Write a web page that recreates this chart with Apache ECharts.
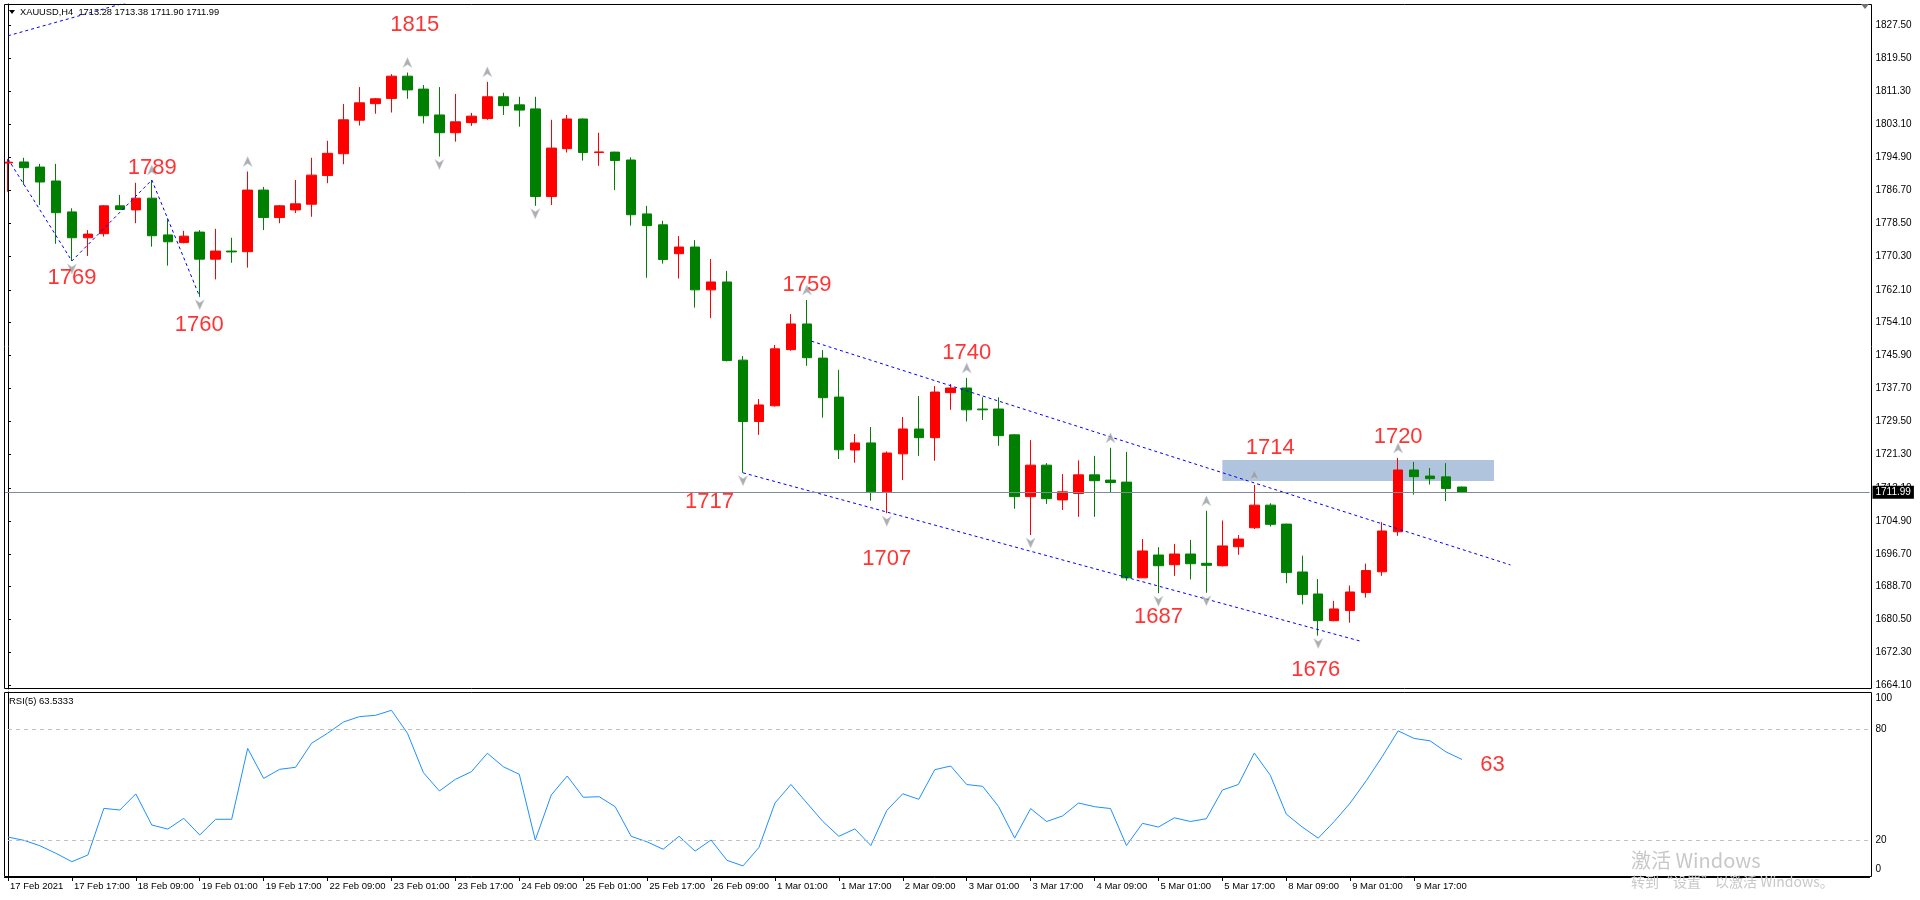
<!DOCTYPE html>
<html><head><meta charset="utf-8">
<script src="https://cdn.jsdelivr.net/npm/echarts@6/dist/echarts.min.js"></script>
<style>html,body{margin:0;padding:0;background:#fff;overflow:hidden}#c{width:1920px;height:900px}</style>
</head><body><div id="c"></div>
<script>
// ---------- data ----------
const tickLabels = ['17 Feb 2021','17 Feb 17:00','18 Feb 09:00','19 Feb 01:00','19 Feb 17:00','22 Feb 09:00','23 Feb 01:00','23 Feb 17:00','24 Feb 09:00','25 Feb 01:00','25 Feb 17:00','26 Feb 09:00','1 Mar 01:00','1 Mar 17:00','2 Mar 09:00','3 Mar 01:00','3 Mar 17:00','4 Mar 09:00','5 Mar 01:00','5 Mar 17:00','8 Mar 09:00','9 Mar 01:00','9 Mar 17:00'];

const opens  = [1793.5,1793.76,1792.5,1789.05,1781.4,1775.0,1776.0,1782.9,1781.9,1784.8,1775.7,1773.8,1776.4,1769.7,1771.7,1771.55,1786.8,1780.0,1781.9,1783.3,1790.4,1795.8,1804.1,1808.2,1809.5,1815.0,1811.8,1805.4,1801.0,1803.5,1804.5,1809.9,1807.9,1806.9,1785.2,1797.05,1804.4,1796.1,1796.2,1794.25,1780.9,1778.2,1771.05,1772.7,1762.1,1764.05,1744.7,1729.5,1733.4,1747.3,1753.65,1745.2,1735.55,1722.45,1724.2,1712.1,1721.5,1727.65,1725.5,1736.65,1737.8,1732.6,1732.6,1726.2,1710.9,1718.7,1710.1,1711.7,1716.3,1715.0,1714.5,1690.8,1696.45,1694.05,1696.7,1694.4,1693.8,1698.5,1703.2,1708.8,1704.1,1692.25,1686.8,1680.2,1682.7,1687.15,1692.3,1702.2,1717.5,1716.0,1715.8,1713.28];
const closes = [1793.7,1792.35,1788.8,1781.2,1775.0,1775.9,1782.9,1782.0,1784.8,1775.5,1774.0,1775.4,1769.7,1771.7,1771.5,1786.8,1780.0,1782.9,1783.4,1790.5,1795.9,1804.2,1808.4,1809.4,1815.0,1811.6,1805.2,1801.0,1803.7,1805.1,1809.9,1807.7,1806.6,1785.2,1797.2,1804.4,1796.1,1796.25,1794.1,1780.7,1778.0,1769.6,1772.7,1762.1,1764.05,1744.6,1729.5,1733.6,1747.5,1753.65,1745.3,1735.4,1722.5,1724.2,1712.1,1721.7,1727.65,1725.5,1736.8,1737.8,1732.4,1732.4,1726.0,1710.9,1718.7,1710.4,1712.1,1716.3,1714.85,1714.4,1690.8,1697.45,1693.8,1696.7,1694.3,1693.9,1698.7,1700.4,1708.8,1704.05,1692.1,1686.7,1680.2,1683.1,1687.3,1692.6,1702.4,1717.5,1715.85,1715.35,1712.9,1711.99];
const lows   = [1786.4,1788.1,1783.1,1773.5,1769.25,1770.5,1775.3,1781.9,1778.6,1772.8,1768.1,1773.6,1760.4,1764.7,1768.8,1767.6,1776.9,1778.6,1781.1,1780.2,1788.5,1793.2,1802.8,1805.7,1806.0,1809.4,1803.3,1795.1,1798.8,1802.7,1804.2,1805.4,1802.5,1782.9,1783.1,1796.1,1794.1,1792.8,1786.8,1778.0,1765.1,1768.6,1764.9,1757.7,1755.1,1744.4,1716.8,1726.2,1733.2,1747.04,1743.3,1730.45,1720.2,1719.3,1709.9,1706.8,1715.0,1721.0,1719.8,1732.4,1729.5,1729.9,1723.5,1707.9,1701.4,1709.1,1707.6,1705.9,1705.9,1711.9,1690.1,1690.8,1687.0,1691.3,1690.4,1687.1,1693.6,1696.5,1702.9,1703.5,1689.45,1684.25,1676.5,1680.05,1679.7,1685.9,1691.3,1701.2,1711.4,1713.9,1709.8,1711.90];
const highs  = [1794.5,1794.8,1793.3,1793.3,1782.3,1776.9,1783.1,1785.6,1788.6,1789.3,1779.8,1776.7,1776.9,1777.2,1775.0,1791.4,1787.6,1783.1,1789.3,1794.8,1799.0,1808.1,1812.3,1809.6,1815.5,1815.9,1812.8,1812.3,1810.6,1805.9,1813.6,1810.9,1809.9,1809.9,1804.2,1805.4,1804.5,1801.0,1796.3,1794.9,1782.9,1779.2,1775.4,1774.4,1769.75,1766.8,1745.7,1735.1,1748.45,1756.1,1759.6,1747.2,1742.3,1726.4,1728.15,1722.1,1730.6,1735.8,1738.3,1738.8,1740.3,1735.5,1735.5,1726.4,1724.9,1719.2,1716.5,1719.9,1721.0,1723.0,1722.0,1700.4,1698.4,1699.2,1700.2,1707.4,1705.0,1701.4,1713.8,1709.25,1704.2,1696.3,1690.5,1685.1,1688.9,1694.3,1704.6,1720.5,1719.5,1718.0,1719.2,1713.38];

const rsiValues = [21.6,19.8,16.9,12.8,8.3,11.9,37.1,36.2,44.9,28.1,25.9,31.7,22.7,31.2,31.2,69.5,53.3,58.2,59.3,72.3,77.7,83.8,86.7,87.4,90.1,77.7,56.4,46.5,52.8,56.9,66.9,59.6,55.5,20.0,44.3,54.6,43.1,43.4,38.0,22.0,19.0,15.0,22.0,14.0,20.0,9.0,6.0,16.0,40.0,50.0,40.0,30.0,22.0,26.0,17.0,36.0,45.0,42.0,58.0,60.0,50.0,49.0,38.0,21.0,37.0,30.0,33.0,40.0,38.0,37.0,17.0,29.0,27.0,32.0,30.0,31.5,47.0,50.0,67.0,55.0,34.0,27.0,21.0,30.0,40.0,52.0,65.0,79.0,74.9,73.6,67.6,63.53];

const priceTicks = [1827.50,1819.50,1811.30,1803.10,1794.90,1786.70,1778.50,1770.30,1762.10,1754.10,1745.90,1737.70,1729.50,1721.30,1713.10,1704.90,1696.70,1688.70,1680.50,1672.30,1664.10];
const rsiTicks = [0,20,80,100];
const rsiLevels = [20,80];
const lastPrice = 1711.99;
const headerText = 'XAUUSD,H4  1713.28 1713.38 1711.90 1711.99';
const rsiText = 'RSI(5) 63.5333';

const upFractals = [9,15,25,30,50,60,69,75,78,87];
const downFractals = [4,12,27,33,46,55,64,72,75,82];

const zigzagLine = [[0,1794.5],[4,1769.25],[9,1789.3],[12,1760.4]];
const zigzagTop = [[0,1825.0],[9,1835.0]];
const channelUpper = [[50.28,1749.4],[94.03,1694.0]];
const channelLower = [[46,1716.8],[84.76,1675.0]];
const zone = [[76,1720.0],[93,1714.8]];

const annotations = [
  ['1815',25.45,1827.8],['1789',9.03,1792.35],['1769',4.0,1764.97],['1760',11.97,1753.4],
  ['1759',50.0,1763.4],['1740',60.0,1746.4],['1717',43.9,1709.6],['1707',55.0,1695.55],
  ['1687',72.0,1681.2],['1676',81.85,1668.0],['1714',79.0,1722.9],['1720',87.0,1725.75]
];
const rsiNote = ['63',92.9,60.4];

// ---------- layout helpers ----------
const N = 117;
const cats = Array.from({length:N},(_,i)=> (i%4===0 && i/4<tickLabels.length) ? tickLabels[i/4] : '');
const tickShown = (i)=> i%4===0 && i/4<tickLabels.length;
const FONT = "'Liberation Sans', Arial, sans-serif";
const arrowPath = 'path://M5,0 L10,10 L5,7 L0,10 Z';

const chart = echarts.init(document.getElementById('c'), null, {renderer:'canvas'});
const candleData = opens.map((o,i)=>[o, closes[i], lows[i], highs[i]]);
const dash = [3,3];

chart.setOption({
  animation:false,
  backgroundColor:'#fff',
  grid:[
    {left:-2.5, width:1872, top:4, height:685},
    {left:-2.5, width:1872, top:692, height:185}
  ],
  xAxis:[
    {type:'category', gridIndex:0, data:cats, boundaryGap:true, show:false},
    {type:'value', gridIndex:0, min:-0.5, max:N-0.5, show:false},
    {type:'category', gridIndex:1, data:cats, boundaryGap:true,
      axisLine:{show:true, lineStyle:{color:'#000', width:1}},
      axisTick:{show:true, alignWithLabel:true, interval:tickShown, length:4, lineStyle:{color:'#000'}},
      axisLabel:{interval:tickShown, align:'left', margin:4, padding:[0,0,0,2], fontSize:9.5, color:'#000', fontFamily:FONT},
      splitLine:{show:false}},
    {type:'value', gridIndex:1, min:-0.5, max:N-0.5, show:false}
  ],
  yAxis:[
    {type:'value', gridIndex:0, position:'right', offset:2, min:1663.28, max:1832.87, scale:true,
      axisLine:{show:true, lineStyle:{color:'#000'}},
      axisTick:{show:true, customValues:priceTicks, length:3, lineStyle:{color:'#000'}},
      axisLabel:{customValues:priceTicks, formatter:v=>Number(v).toFixed(2), fontSize:10, color:'#000', margin:4, fontFamily:FONT},
      splitLine:{show:false}},
    {type:'value', gridIndex:1, position:'right', offset:2, min:0, max:100,
      axisLine:{show:true, lineStyle:{color:'#000'}},
      axisTick:{show:true, customValues:rsiTicks, length:3, lineStyle:{color:'#000'}},
      axisLabel:{customValues:rsiTicks, fontSize:10, color:'#000', margin:4, fontFamily:FONT,
        formatter:v=> v===100 ? '{t|100}' : (v===0 ? '{b|0}' : String(v)),
        rich:{t:{padding:[12,0,0,0], fontSize:10, color:'#000', fontFamily:FONT}, b:{padding:[0,0,16,0], fontSize:10, color:'#000', fontFamily:FONT}}},
      splitLine:{show:false}}
  ],
  series:[
    {type:'line', xAxisIndex:1, yAxisIndex:0, data:zone, symbol:'none', lineStyle:{opacity:0}, silent:true, z:1,
      markArea:{silent:true, itemStyle:{color:'#B0C4DE'}, data:[[{xAxis:zone[0][0], yAxis:zone[0][1]},{xAxis:zone[1][0], yAxis:zone[1][1]}]]}},
    {type:'candlestick', xAxisIndex:0, yAxisIndex:0, data:candleData, barWidth:10, z:3, silent:true,
      itemStyle:{color:'#FF0000', color0:'#008000', borderColor:'#FF0000', borderColor0:'#008000', borderWidth:1},
      markLine:{silent:true, symbol:'none', animation:false,
        lineStyle:{color:'#7F8B97', width:1, type:'solid'},
        label:{show:true, position:'end', distance:3, formatter:()=>lastPrice.toFixed(2), backgroundColor:'#000', color:'#fff', fontSize:10, fontFamily:FONT, padding:[2,3,1,3]},
        data:[{yAxis:lastPrice}]}},
    {type:'line', xAxisIndex:1, yAxisIndex:0, data:zigzagLine, symbol:'none', silent:true, z:4, lineStyle:{color:'#0000FF', width:1, type:dash}},
    {type:'line', xAxisIndex:1, yAxisIndex:0, data:zigzagTop, symbol:'none', silent:true, z:4, lineStyle:{color:'#0000FF', width:1, type:dash}},
    {type:'line', xAxisIndex:1, yAxisIndex:0, data:channelUpper, symbol:'none', silent:true, z:4, lineStyle:{color:'#0000FF', width:1, type:dash}},
    {type:'line', xAxisIndex:1, yAxisIndex:0, data:channelLower, symbol:'none', silent:true, z:4, lineStyle:{color:'#0000FF', width:1, type:dash}},
    {type:'scatter', xAxisIndex:0, yAxisIndex:0, data:upFractals.map(i=>[i, highs[i]]), symbol:arrowPath, symbolSize:[9,10], symbolOffset:[0,-10], silent:true, z:5,
      itemStyle:{color:'#9A9A9A', borderColor:'#C8D0DC', borderWidth:0.6}},
    {type:'scatter', xAxisIndex:0, yAxisIndex:0, data:downFractals.map(i=>[i, lows[i]]), symbol:arrowPath, symbolRotate:180, symbolSize:[9,10], symbolOffset:[0,8], silent:true, z:5,
      itemStyle:{color:'#9A9A9A', borderColor:'#C8D0DC', borderWidth:0.6}},
    {type:'scatter', xAxisIndex:1, yAxisIndex:0, data:annotations.map(a=>({value:[a[1],a[2]], name:a[0]})), symbolSize:1, silent:true, z:10,
      itemStyle:{color:'rgba(0,0,0,0)'},
      label:{show:true, position:'inside', formatter:p=>p.name, color:'#FF0000', fontSize:22, fontFamily:FONT}},
    {type:'line', xAxisIndex:2, yAxisIndex:1, data:rsiValues, symbol:'none', silent:true, z:3, lineStyle:{color:'#1E90FF', width:1},
      markLine:{silent:true, symbol:'none', animation:false, label:{show:false}, lineStyle:{color:'#C0C0C0', width:1, type:[4,4]},
        data:rsiLevels.map(v=>({yAxis:v}))}},
    {type:'scatter', xAxisIndex:3, yAxisIndex:1, data:[{value:[rsiNote[1], rsiNote[2]], name:rsiNote[0]}], symbolSize:1, silent:true, z:10,
      itemStyle:{color:'rgba(0,0,0,0)'},
      label:{show:true, position:'inside', formatter:p=>p.name, color:'#FF0000', fontSize:22, fontFamily:FONT}}
  ],
  graphic:[
    {type:'rect', z:100, silent:true, shape:{x:0, y:0, width:4, height:900}, style:{fill:'#fff'}},
    {type:'rect', z:101, silent:true, shape:{x:4.5, y:4.5, width:1867, height:684}, style:{fill:'none', stroke:'#000', lineWidth:1}},
    {type:'rect', z:101, silent:true, shape:{x:4.5, y:692.5, width:1867, height:184}, style:{fill:'none', stroke:'#000', lineWidth:1}},
    {type:'polygon', z:102, silent:true, shape:{points:[[9,10],[15,10],[12,14]]}, style:{fill:'#000'}},
    {type:'text', z:102, silent:true, x:20, y:12.5, style:{text:headerText, fill:'#000', fontSize:9.3, fontFamily:FONT, verticalAlign:'middle'}},
    {type:'text', z:102, silent:true, x:9, y:701, style:{text:rsiText, fill:'#000', fontSize:9.5, fontFamily:FONT, verticalAlign:'middle'}},
    {type:'polygon', z:102, silent:true, shape:{points:[[1861,4],[1869,4],[1865,9]]}, style:{fill:'#707070'}},
    {type:'text', z:102, silent:true, x:1631, y:860, style:{text:'激活 Windows', fill:'#C8C8C8', fontSize:20, fontFamily:"'Noto Sans CJK SC', 'Liberation Sans'", verticalAlign:'middle'}},
    {type:'text', z:102, silent:true, x:1631, y:882, style:{text:'转到“设置”以激活 Windows。', fill:'#C8C8C8', fontSize:14, fontFamily:"'Noto Sans CJK SC', 'Liberation Sans'", verticalAlign:'middle'}}
  ]
});
</script>
</body></html>
